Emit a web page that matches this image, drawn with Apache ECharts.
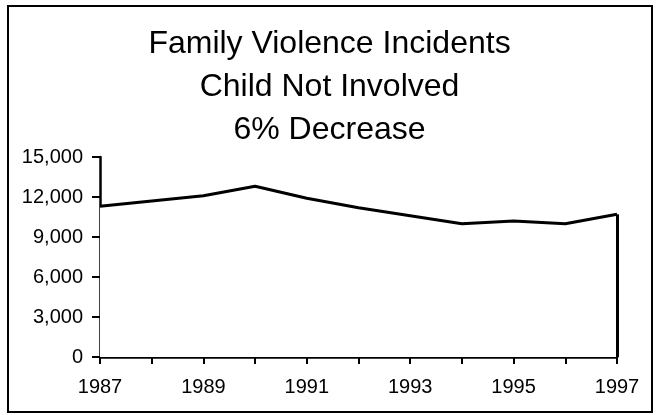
<!DOCTYPE html>
<html>
<head>
<meta charset="utf-8">
<script src="https://cdn.jsdelivr.net/npm/echarts@6/dist/echarts.min.js"></script>
<style>html,body{margin:0;padding:0;background:#fff;}#c{width:659px;height:415px;}</style>
</head>
<body>
<div id="c"></div>
<script>
var years = ['1987','1988','1989','1990','1991','1992','1993','1994','1995','1996','1997'];
var incidents = [11300, 11700, 12100, 12800, 11900, 11200, 10600, 10000, 10200, 10000, 10700];
var titleLines = ['Family Violence Incidents', 'Child Not Involved', '6% Decrease'];
var yTicks = [0, 3000, 6000, 9000, 12000, 15000];

var font = "'Liberation Sans', Arial, sans-serif";
var chart = echarts.init(document.getElementById('c'), null, {renderer: 'canvas'});
var lastIdx = years.length - 1;
chart.setOption({
  animation: false,
  backgroundColor: '#fff',
  title: {
    text: titleLines.join('\n'),
    left: 'center',
    top: 18,
    textStyle: {fontFamily: font, fontSize: 32, fontWeight: 'normal', color: '#000', lineHeight: 43}
  },
  graphic: [{
    type: 'rect',
    shape: {x: 8, y: 6, width: 644, height: 406},
    style: {fill: null, stroke: '#000', lineWidth: 2},
    silent: true
  }],
  grid: {left: 100, right: 42, top: 157, bottom: 58, containLabel: false},
  xAxis: {
    type: 'category',
    data: years,
    boundaryGap: false,
    axisLine: {lineStyle: {color: '#000', width: 2.5}},
    axisTick: {show: true, interval: 0, length: 7, lineStyle: {color: '#000', width: 2}},
    axisLabel: {interval: 1, color: '#000', fontFamily: font, fontSize: 20, margin: 20},
    splitLine: {show: false}
  },
  yAxis: {
    type: 'value',
    min: yTicks[0],
    max: yTicks[yTicks.length - 1],
    interval: yTicks[1] - yTicks[0],
    axisLine: {show: true, lineStyle: {color: '#000', width: 2.5}},
    axisTick: {show: true, length: 8, lineStyle: {color: '#000', width: 2}},
    axisLabel: {color: '#000', fontFamily: font, fontSize: 20, margin: 17,
      formatter: function (v) { return v.toLocaleString('en-US'); }},
    splitLine: {show: false}
  },
  series: [{
    type: 'line',
    data: incidents,
    symbol: 'none',
    lineStyle: {color: '#000', width: 3},
    areaStyle: {color: '#fff', opacity: 1},
    markLine: {
      silent: true,
      symbol: ['none', 'none'],
      label: {show: false},
      lineStyle: {color: '#000', width: 3, type: 'solid'},
      data: [[{coord: [years[lastIdx], 0]}, {coord: [years[lastIdx], incidents[lastIdx]]}]]
    }
  }]
});
</script>
</body>
</html>
